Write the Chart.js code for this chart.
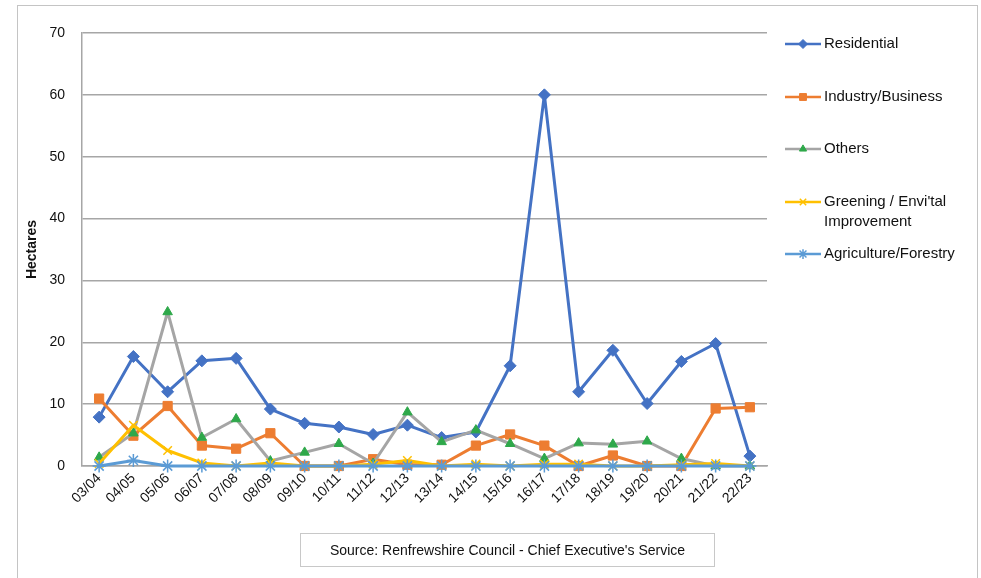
<!DOCTYPE html>
<html>
<head>
<meta charset="utf-8">
<script src="https://cdn.jsdelivr.net/npm/chart.js@4.4.0/dist/chart.umd.min.js"></script>
<style>
  html, body { margin: 0; padding: 0; background: #fff; }
  #wrap { position: relative; width: 981px; height: 578px; overflow: hidden; }
  #frame { position: absolute; left: 17px; top: 5px; width: 959px; height: 600px; border: 1px solid #c4c4c4; }
  #chart { position: absolute; left: 0; top: 0; }
  #source {
    position: absolute; left: 300px; top: 533px; width: 413px; height: 32px;
    border: 1px solid #c8c8c8; font: 14px "Liberation Sans", Arial, sans-serif;
    color: #111; text-align: center; line-height: 32px;
  }
</style>
</head>
<body>
<div id="wrap">
  <div id="frame"></div>
  <canvas id="chart" width="981" height="578"></canvas>
  <div id="source">Source: Renfrewshire Council - Chief Executive's Service</div>
</div>
<script>
const categories = ['03/04', '04/05', '05/06', '06/07', '07/08', '08/09', '09/10', '10/11', '11/12', '12/13',
  '13/14', '14/15', '15/16', '16/17', '17/18', '18/19', '19/20', '20/21', '21/22', '22/23'];

const residential = [7.9, 17.7, 12.0, 17.0, 17.4, 9.2, 6.9, 6.3, 5.1, 6.6, 4.6, 5.5, 16.2, 60.0, 12.0, 18.7, 10.1, 16.9, 19.8, 1.6];
const industry    = [10.9, 4.9, 9.7, 3.3, 2.8, 5.3, 0, 0, 1.1, 0.2, 0.2, 3.3, 5.1, 3.3, 0, 1.7, 0, 0, 9.3, 9.5];
const others      = [1.4, 5.3, 24.9, 4.6, 7.6, 0.8, 2.2, 3.6, 0.4, 8.7, 3.9, 5.8, 3.6, 1.2, 3.7, 3.5, 4.0, 1.2, 0, 0];
const greening    = [0.4, 6.6, 2.5, 0.5, 0, 0.5, 0, 0, 0.3, 0.9, 0, 0.3, 0, 0.3, 0.3, 0, 0, 0.2, 0.4, 0];
const agriculture = [0, 0.9, 0, 0, 0, 0, 0, 0, 0, 0, 0, 0, 0, 0, 0, 0, 0, 0, 0, 0];

const seriesNames = ['Residential', 'Industry/Business', 'Others', 'Greening / Envi\'tal Improvement', 'Agriculture/Forestry'];
const yTicks = [0, 10, 20, 30, 40, 50, 60, 70];

const FONT = '"Liberation Sans", Arial, sans-serif';

function lineSet(label, data, color, style, radius, markerFill, markerBorder, order) {
  return {
    label: label,
    data: data,
    borderColor: color,
    backgroundColor: color,
    borderWidth: 3,
    borderJoinStyle: 'round',
    borderCapStyle: 'round',
    pointStyle: style,
    pointRadius: radius,
    pointBackgroundColor: markerFill,
    pointBorderColor: markerBorder,
    pointBorderWidth: style === 'crossRot' || style === 'star' ? 1.5 : 1,
    tension: 0,
    clip: false,
    order: order
  };
}

const datasets = [
  lineSet(seriesNames[0], residential, '#4472C4', 'rectRot', 6, '#4472C4', '#4472C4', 5),
  lineSet(seriesNames[1], industry, '#ED7D31', 'rect', 6.5, '#ED7D31', '#ED7D31', 4),
  lineSet(seriesNames[2], others, '#A5A5A5', 'triangle', 5.5, '#2EA84A', '#2EA84A', 3),
  lineSet(seriesNames[3], greening, '#FFC000', 'crossRot', 6, '#FFC000', '#FFC000', 2),
  lineSet(seriesNames[4], agriculture, '#5B9BD5', 'star', 6.5, '#5B9BD5', '#5B9BD5', 1)
];

// legend drawn like the spreadsheet one: line with the marker in the middle
const legendRows = [
  { idx: 0, dy: 11, lines: ['Residential'] },
  { idx: 1, dy: 64, lines: ['Industry/Business'] },
  { idx: 2, dy: 116, lines: ['Others'] },
  { idx: 3, dy: 169, lines: ['Greening / Envi\'tal', 'Improvement'] },
  { idx: 4, dy: 221, lines: ['Agriculture/Forestry'] }
];

const sideLegend = {
  id: 'sideLegend',
  afterDraw(chart) {
    const ctx = chart.ctx;
    const x0 = chart.chartArea.right + 18;
    const top = chart.chartArea.top;
    ctx.save();
    legendRows.forEach(row => {
      const ds = chart.data.datasets[row.idx];
      const y = top + row.dy;
      ctx.strokeStyle = ds.borderColor;
      ctx.lineWidth = 2.5;
      ctx.beginPath();
      ctx.moveTo(x0, y);
      ctx.lineTo(x0 + 36, y);
      ctx.stroke();
      ctx.fillStyle = ds.pointBackgroundColor;
      ctx.strokeStyle = ds.pointBorderColor;
      ctx.lineWidth = ds.pointBorderWidth;
      Chart.helpers.drawPoint(ctx, {
        pointStyle: ds.pointStyle,
        radius: ds.pointRadius * 0.75,
        borderWidth: ds.pointBorderWidth
      }, x0 + 18, y);
      ctx.fillStyle = '#111';
      ctx.font = '15px ' + FONT;
      ctx.textBaseline = 'middle';
      ctx.textAlign = 'left';
      row.lines.forEach((t, i) => ctx.fillText(t, x0 + 39, y + i * 20));
    });
    ctx.restore();
  }
};

new Chart(document.getElementById('chart'), {
  type: 'line',
  data: { labels: categories, datasets: datasets },
  options: {
    responsive: false,
    animation: false,
    layout: { padding: { left: 22, right: 214, top: 33, bottom: 0 } },
    plugins: {
      legend: { display: false },
      tooltip: { enabled: false }
    },
    scales: {
      x: {
        offset: true,
        grid: { display: false, drawTicks: false },
        border: { display: true, color: '#A6A6A6', width: 1.5 },
        ticks: {
          color: '#111',
          font: { family: FONT, size: 14 },
          minRotation: 45,
          maxRotation: 45,
          autoSkip: false,
          padding: 4
        },
        afterFit(scale) { scale.height = 112; }
      },
      y: {
        min: 0,
        max: 70,
        afterBuildTicks(scale) { scale.ticks = yTicks.map(v => ({ value: v })); },
        grid: { color: '#A6A6A6', lineWidth: 1.5, drawTicks: false },
        border: { display: true, color: '#A6A6A6', width: 1.5 },
        ticks: {
          color: '#111',
          font: { family: FONT, size: 14 },
          padding: 17
        },
        title: {
          display: true,
          text: 'Hectares',
          color: '#111',
          font: { family: FONT, size: 14, weight: 'bold' },
          padding: { top: 2, bottom: 4 }
        },
        afterFit(scale) { scale.width = 60; }
      }
    }
  },
  plugins: [sideLegend]
});
</script>
</body>
</html>
